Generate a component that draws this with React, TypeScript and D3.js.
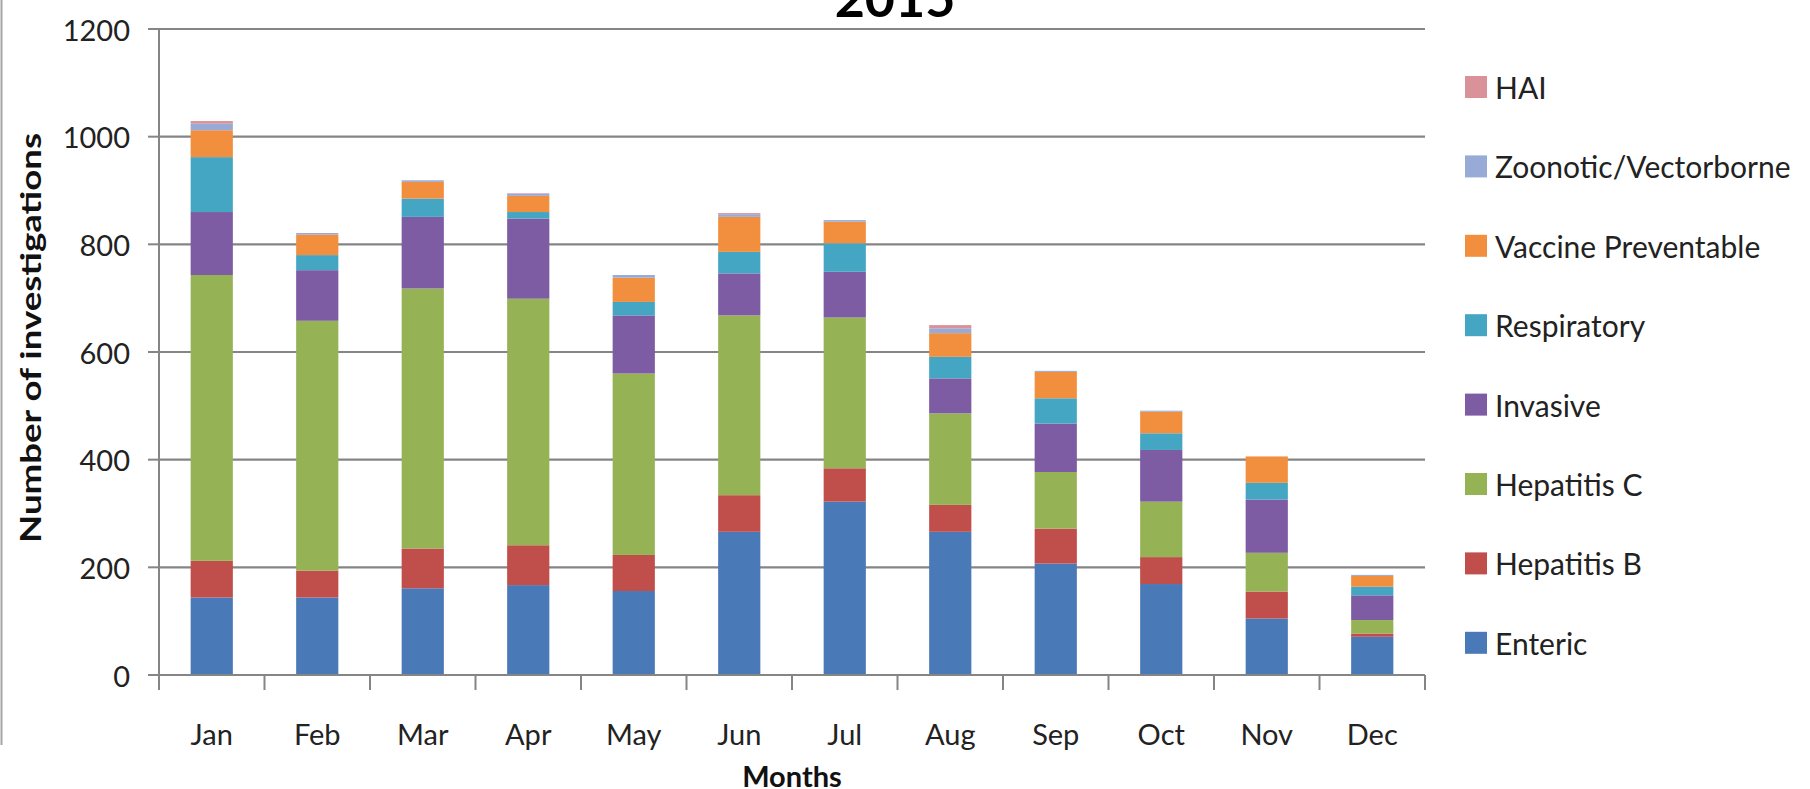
import React from "react";
import * as d3 from "d3";

const months = ["Jan", "Feb", "Mar", "Apr", "May", "Jun", "Jul", "Aug", "Sep", "Oct", "Nov", "Dec"];
const seriesNames = ["Enteric", "Hepatitis B", "Hepatitis C", "Invasive", "Respiratory", "Vaccine Preventable", "Zoonotic/Vectorborne", "HAI"];
const seriesColors = ["#4a79b8", "#c04e4b", "#95b355", "#7d5ca3", "#45a6c4", "#f18f3e", "#98abd6", "#d9929a"];

const enteric = [144, 144, 161, 167, 156, 266, 322, 266, 207, 169, 105, 71];
const hepatitisB = [68, 50, 74, 74, 67, 68, 62, 50, 65, 50, 50, 6];
const hepatitisC = [531, 464, 483, 458, 337, 334, 280, 170, 105, 103, 72, 25];
const invasive = [117, 94, 133, 149, 108, 78, 85, 65, 90, 96, 99, 46];
const respiratory = [102, 28, 34, 12, 25, 40, 53, 40, 47, 31, 31, 16];
const vaccinePreventable = [50, 38, 31, 30, 45, 65, 40, 44, 49, 40, 49, 20];
const zoonotic = [12, 3, 3, 4, 5, 5, 3, 9, 2, 2, 0, 2];
const hai = [5, 0, 0, 1, 0, 2, 0, 6, 0, 0, 0, 0];

const yTicks = [0, 200, 400, 600, 800, 1000, 1200];
const title = "2015";
const yTitle = "Number of investigations";
const xTitle = "Months";

const W = 1810;
const H = 789;
const FONT = "Lato, 'Noto Sans', sans-serif";

export default function App() {
  const allSeries = [enteric, hepatitisB, hepatitisC, invasive, respiratory, vaccinePreventable, zoonotic, hai];
  const rows = months.map((m, i) => {
    const r: Record<string, any> = { month: m };
    seriesNames.forEach((s, j) => (r[s] = allSeries[j][i]));
    return r;
  });
  const stacked = d3.stack<any>().keys(seriesNames)(rows);

  const x = d3.scaleBand<string>().domain(months).range([159, 1425]).paddingInner(0.6).paddingOuter(0.3);
  const y = d3.scaleLinear().domain([0, 1200]).range([675, 29]);
  const step = x.step();
  const left = 159;
  const right = 1425;
  const base = y(0);
  const boundaries = d3.range(months.length + 1).map((i) => left + i * step);
  const legendOrder = [...seriesNames].reverse();

  return (
    <div style={{ position: "absolute", left: 0, top: 0 }}>
      <svg width={W} height={H} viewBox={`0 0 ${W} ${H}`} style={{ display: "block", background: "#fff" }}>
        <rect x={0} y={0} width={W} height={H} fill="#ffffff" />
        <line x1={1.5} x2={1.5} y1={0} y2={745} stroke="#a6a6a6" strokeWidth={2} />
        {/* title */}
        <text x={895} y={17} textAnchor="middle" fontFamily={FONT} fontWeight={700} fontSize={52} fill="#000">
          {title}
        </text>
        {/* gridlines */}
        {yTicks.filter((t) => t > 0).map((t) => (
          <line key={t} x1={left} x2={right} y1={y(t)} y2={y(t)} stroke="#858585" strokeWidth={2.2} />
        ))}
        {/* y ticks */}
        {yTicks.map((t) => (
          <g key={"yt" + t}>
            <line x1={148} x2={left} y1={y(t)} y2={y(t)} stroke="#858585" strokeWidth={2} />
            <text x={130} y={y(t)} textAnchor="end" dominantBaseline="central" fontFamily={FONT} fontSize={29} fill="#222">
              {t}
            </text>
          </g>
        ))}
        {/* bars */}
        {stacked.map((layer, j) => (
          <g key={layer.key} fill={seriesColors[j]}>
            {layer.map((d, i) =>
              d[1] - d[0] > 0 ? (
                <rect
                  key={i}
                  x={x(months[i])}
                  width={x.bandwidth()}
                  y={y(d[1])}
                  height={y(d[0]) - y(d[1])}
                />
              ) : null
            )}
          </g>
        ))}
        {/* axes */}
        <line x1={left} x2={left} y1={y(1200)} y2={base} stroke="#858585" strokeWidth={2} />
        <line x1={left} x2={right} y1={base} y2={base} stroke="#858585" strokeWidth={2} />
        {boundaries.map((bx, i) => (
          <line key={"xt" + i} x1={bx} x2={bx} y1={base} y2={base + 15} stroke="#858585" strokeWidth={2} />
        ))}
        {months.map((m) => (
          <text key={m} x={(x(m) as number) + x.bandwidth() / 2} y={733} textAnchor="middle" dominantBaseline="central" fontFamily={FONT} fontSize={29} fill="#222">
            {m}
          </text>
        ))}
        <text x={792} y={775} textAnchor="middle" dominantBaseline="central" fontFamily={FONT} fontWeight={700} fontSize={29} fill="#111">
          {xTitle}
        </text>
        <text
          transform={`translate(29, 338) rotate(-90)`}
          textAnchor="middle"
          dominantBaseline="central"
          fontFamily={FONT}
          fontWeight={700}
          fontSize={29}
          fill="#111"
          textLength={410}
          lengthAdjust="spacingAndGlyphs"
        >
          {yTitle}
        </text>
        {/* legend */}
        {legendOrder.map((name, k) => {
          const cy = 87 + k * 79.4;
          const color = seriesColors[seriesNames.indexOf(name)];
          return (
            <g key={name}>
              <rect x={1465} y={cy - 11} width={22} height={22} fill={color} />
              <text x={1495} y={cy} dominantBaseline="central" fontFamily={FONT} fontSize={30} fill="#222">
                {name}
              </text>
            </g>
          );
        })}
      </svg>
    </div>
  );
}
